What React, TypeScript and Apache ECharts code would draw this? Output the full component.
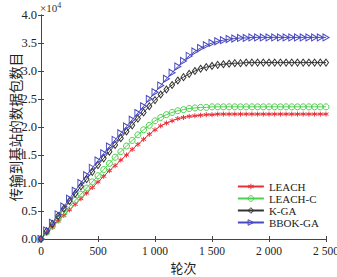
import React, { useEffect, useRef } from "react";
import * as echarts from "echarts";

const rounds = [
  0, 50, 100, 150, 200, 250, 300, 350, 400, 450, 500, 550, 600, 650, 700, 750, 800, 850, 900, 950,
  1000, 1050, 1100, 1150, 1200, 1250, 1300, 1350, 1400, 1450, 1500, 1550, 1600, 1650, 1700, 1750,
  1800, 1850, 1900, 1950, 2000, 2050, 2100, 2150, 2200, 2250, 2300, 2350, 2400, 2450, 2500,
];

// values in units of 10^4 packets
const leach = [
  0, 0.11, 0.21, 0.32, 0.42, 0.52, 0.62, 0.72, 0.82, 0.92, 1.02, 1.12, 1.22, 1.31, 1.41, 1.5, 1.6,
  1.69, 1.78, 1.87, 1.95, 2.02, 2.07, 2.11, 2.15, 2.17, 2.19, 2.2, 2.21, 2.22, 2.22, 2.23, 2.23, 2.23,
  2.23, 2.23, 2.23, 2.23, 2.23, 2.23, 2.23, 2.23, 2.23, 2.23, 2.23, 2.23, 2.23, 2.23, 2.23, 2.23, 2.23,
];
const leachC = [
  0, 0.12, 0.23, 0.35, 0.46, 0.58, 0.69, 0.8, 0.91, 1.02, 1.13, 1.24, 1.35, 1.46, 1.56, 1.66, 1.76,
  1.86, 1.95, 2.03, 2.11, 2.17, 2.22, 2.26, 2.29, 2.31, 2.33, 2.34, 2.35, 2.35, 2.36, 2.36, 2.36, 2.36,
  2.36, 2.36, 2.36, 2.36, 2.36, 2.36, 2.36, 2.36, 2.36, 2.36, 2.36, 2.36, 2.36, 2.36, 2.36, 2.36, 2.36,
];
const kga = [
  0, 0.14, 0.27, 0.41, 0.54, 0.68, 0.81, 0.94, 1.07, 1.2, 1.32, 1.44, 1.56, 1.68, 1.8, 1.92, 2.03,
  2.15, 2.26, 2.37, 2.48, 2.58, 2.67, 2.75, 2.83, 2.89, 2.95, 3.0, 3.04, 3.07, 3.09, 3.11, 3.12, 3.13,
  3.14, 3.14, 3.15, 3.15, 3.15, 3.15, 3.15, 3.15, 3.15, 3.15, 3.15, 3.15, 3.15, 3.15, 3.15, 3.15, 3.15,
];
const bbokga = [
  0, 0.15, 0.29, 0.44, 0.58, 0.72, 0.86, 1.0, 1.14, 1.27, 1.4, 1.53, 1.65, 1.77, 1.89, 2.01, 2.13,
  2.25, 2.37, 2.5, 2.62, 2.74, 2.86, 2.97, 3.08, 3.18, 3.27, 3.35, 3.41, 3.46, 3.5, 3.53, 3.55, 3.57,
  3.58, 3.59, 3.59, 3.6, 3.6, 3.6, 3.6, 3.6, 3.6, 3.6, 3.6, 3.6, 3.6, 3.6, 3.6, 3.6, 3.6,
];

const seriesNames = ["LEACH", "LEACH-C", "K-GA", "BBOK-GA"];
const seriesColors = ["#e8323a", "#4fcf4f", "#333333", "#4848c0"];
const xTicks = { min: 0, max: 2500, interval: 500 };
const yTicks = { min: 0, max: 4, interval: 0.5 };

const SERIF = "'Liberation Serif', 'Times New Roman', serif";
const CJK = "'Noto Sans CJK SC', sans-serif";

export default function App() {
  const ref = useRef<HTMLDivElement>(null);
  useEffect(() => {
    if (!ref.current) return;
    const chart = echarts.init(ref.current, null, { renderer: "svg" });
    const axisLine = { show: true, lineStyle: { color: "#444", width: 1 } };
    const tick = { show: true, inside: true, length: 3, lineStyle: { color: "#444" } };
    const hollow = (color: string) => ({ color: "rgba(255,255,255,0)", borderColor: color, borderWidth: 1 });
    const mk = (i: number, vals: number[], symbol: string, size: any) => ({
      name: seriesNames[i],
      type: "line",
      data: rounds.map((r, k) => [r, vals[k]]),
      symbol,
      symbolSize: size,
      showAllSymbol: true,
      lineStyle: { color: seriesColors[i], width: 1 },
      itemStyle: hollow(seriesColors[i]),
      emphasis: { disabled: true },
      z: 2,
    });
    chart.setOption({
      animation: false,
      grid: { left: 41, right: 11, top: 15, bottom: 38, containLabel: false, outerBoundsMode: "none" },
      legend: {
        orient: "vertical",
        right: 18,
        bottom: 49,
        itemWidth: 26,
        itemHeight: 7,
        itemGap: 1,
        data: seriesNames.map((n, i) => ({ name: n, itemStyle: hollow(seriesColors[i]) })),
        textStyle: { fontFamily: SERIF, fontSize: 11, color: "#222", lineHeight: 11 },
        padding: 0,
      },
      graphic: [
        {
          type: "text",
          left: 40,
          top: 1,
          style: {
            text: "×10{s|4}",
            font: `11px ${SERIF}`,
            fill: "#333",
            rich: { s: { fontSize: 8, fontFamily: SERIF, fill: "#333", verticalAlign: "top", padding: [0, 0, 6, 0] } },
          },
        },
      ],
      xAxis: [
        {
          type: "value",
          ...xTicks,
          position: "bottom",
          axisLine,
          axisTick: tick,
          splitLine: { show: false },
          axisLabel: {
            margin: 6,
            fontFamily: SERIF,
            fontSize: 11.5,
            color: "#222",
            formatter: (v: number) =>
              v >= 1000 ? `${Math.floor(v / 1000)} ${String(v % 1000).padStart(3, "0")}` : String(v),
          },
          name: "轮次",
          nameLocation: "middle",
          nameGap: 22,
          nameMoveOverlap: false,
          nameTextStyle: { fontFamily: CJK, fontSize: 13, color: "#222" },
        },
        {
          type: "value",
          ...xTicks,
          position: "top",
          axisLine,
          axisTick: tick,
          splitLine: { show: false },
          axisLabel: { show: false },
        },
      ],
      yAxis: [
        {
          type: "value",
          ...yTicks,
          position: "left",
          axisLine,
          axisTick: tick,
          splitLine: { show: false },
          axisLabel: {
            margin: 4,
            fontFamily: SERIF,
            fontSize: 12.5,
            color: "#222",
            formatter: (v: number) => v.toFixed(1),
          },
          name: "传输到基站的数据包数目",
          nameLocation: "middle",
          nameGap: 19,
          nameMoveOverlap: false,
          nameTextStyle: { fontFamily: CJK, fontSize: 13.5, color: "#222" },
        },
        {
          type: "value",
          ...yTicks,
          position: "right",
          axisLine,
          axisTick: tick,
          splitLine: { show: false },
          axisLabel: { show: false },
        },
      ],
      series: [
        mk(0, leach, "path://M5,0 L5,10 M0.7,2.5 L9.3,7.5 M0.7,7.5 L9.3,2.5", 5),
        mk(1, leachC, "circle", 6),
        mk(2, kga, "diamond", [5, 7]),
        mk(3, bbokga, "path://M0,0 L10,5 L0,10 Z", [6, 7]),
      ],
    });
    return () => chart.dispose();
  }, []);
  return (
    <div
      ref={ref}
      style={{ position: "fixed", left: 0, top: 0, width: 337, height: 277, background: "#fff" }}
    />
  );
}
